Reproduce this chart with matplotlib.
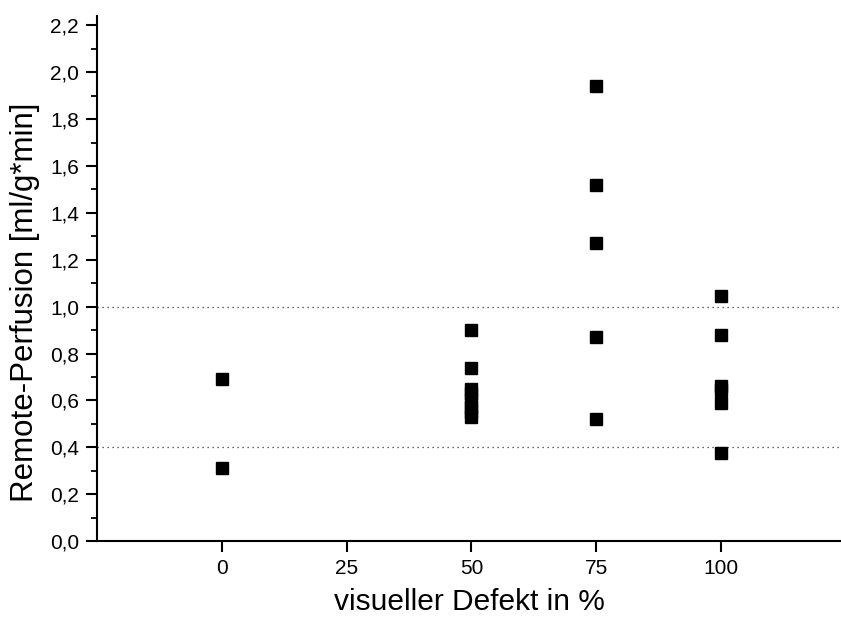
import matplotlib.pyplot as plt
from matplotlib.ticker import MultipleLocator, FuncFormatter

plt.rcParams['font.family'] = ['Liberation Sans', 'DejaVu Sans']

# visual defect classes and measured remote perfusion per patient
defekt_0 = [0.69, 0.31]
defekt_50 = [0.90, 0.74, 0.65, 0.63, 0.60, 0.57, 0.55, 0.53]
defekt_75 = [1.94, 1.52, 1.27, 0.87, 0.52]
defekt_100 = [1.045, 0.88, 0.66, 0.645, 0.59, 0.375]

x_ticks = [0, 25, 50, 75, 100]
grenzen = [1.0, 0.4]

x = [0] * len(defekt_0) + [50] * len(defekt_50) + [75] * len(defekt_75) + [100] * len(defekt_100)
y = defekt_0 + defekt_50 + defekt_75 + defekt_100

fig = plt.figure(figsize=(8.41, 6.17), dpi=100)
ax = fig.add_axes([97 / 841, 1 - 541 / 617, 1 - 97 / 841, (541 - 16) / 617])

for g in grenzen:
    ax.axhline(g, color='#333333', linestyle=(0, (1, 3)), linewidth=0.9, zorder=1)

ax.plot(x, y, 's', color='black', markersize=8.5, linestyle='none', zorder=3)

ax.set_xlim(-25, 124)
ax.set_ylim(0, 2.24)
ax.set_xticks(x_ticks)
ax.xaxis.set_minor_locator(MultipleLocator(25 / 3))
ax.yaxis.set_major_locator(MultipleLocator(0.2))
ax.yaxis.set_minor_locator(MultipleLocator(0.1))
ax.yaxis.set_major_formatter(FuncFormatter(lambda v, p: f'{v:.1f}'.replace('.', ',')))

for s in ['top', 'right']:
    ax.spines[s].set_visible(False)
for s in ['left', 'bottom']:
    ax.spines[s].set_linewidth(1.5)

ax.tick_params(which='major', direction='out', length=8, width=1.5, labelsize=15)
ax.tick_params(axis='y', which='major', pad=5)
ax.tick_params(axis='x', which='major', pad=5)
ax.tick_params(axis='y', which='minor', direction='out', length=4, width=1.3)
ax.tick_params(axis='x', which='minor', direction='out', length=1, width=1.3)

ax.set_xlabel('visueller Defekt in %', fontsize=21.5, labelpad=7)
ax.set_ylabel('Remote-Perfusion [ml/g*min]', fontsize=22.5)
ax.yaxis.set_label_coords(-0.077, 0.455)

plt.savefig('out.png', dpi=100)
